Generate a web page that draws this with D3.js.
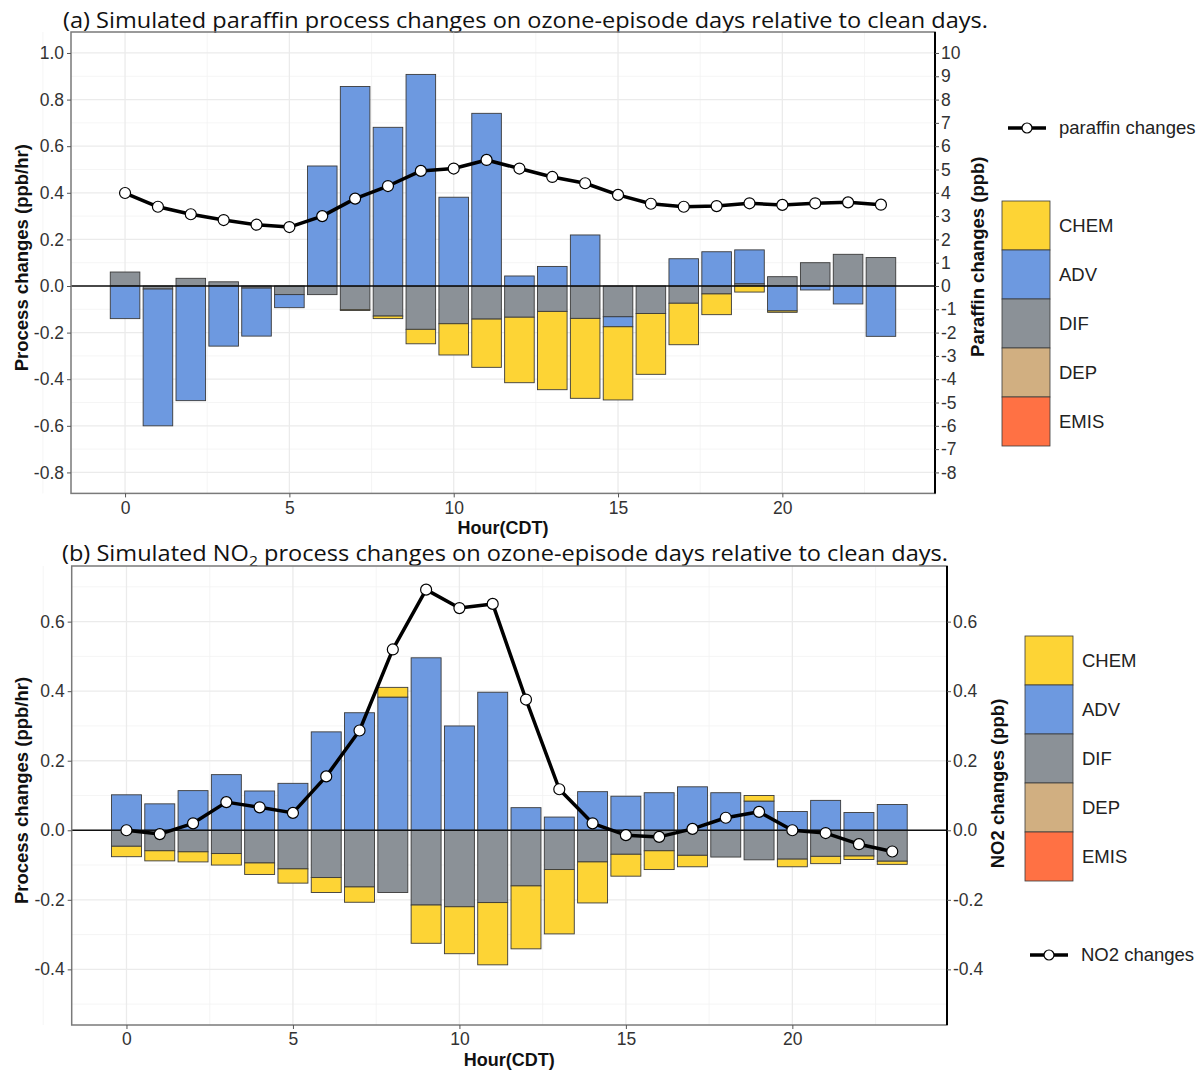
<!DOCTYPE html>
<html lang="en">
<head>
<meta charset="utf-8">
<title>Process changes</title>
<script src="https://cdn.jsdelivr.net/npm/d3@7"></script>
<style>
  body { margin: 0; background: #ffffff; }
  svg { display: block; font-family: "Liberation Sans", Arial, sans-serif; }
  .tick text { fill: #333333; font-size: 17.5px; }
  .tick line { stroke: #555555; }
</style>
</head>
<body>
<script>
// hours and process keys
var hours = [0,1,2,3,4,5,6,7,8,9,10,11,12,13,14,15,16,17,18,19,20,21,22,23];
var legendKeys = ["CHEM", "ADV", "DIF", "DEP", "EMIS"];
var stackKeys = ["EMIS", "DEP", "DIF", "ADV", "CHEM"];   // nearest zero first
var colors = { CHEM: "#FDD435", ADV: "#6D99E0", DIF: "#8B9197", DEP: "#D1AF81", EMIS: "#FF7144" };

// (a) paraffin process changes (ppb/hr)
var aChem = [0,0,0,0,0,0,0,-0.003,-0.011,-0.062,-0.134,-0.207,-0.281,-0.336,-0.343,-0.314,-0.261,-0.178,-0.089,-0.026,-0.006,0,0,0];
var aAdv  = [-0.14,-0.587,-0.492,-0.258,-0.206,-0.056,0.515,0.856,0.681,0.908,0.381,0.741,0.043,0.084,0.219,-0.043,0,0.117,0.147,0.145,-0.107,-0.017,-0.077,-0.216];
var aDif  = [0.06,-0.013,0.033,0.018,-0.009,-0.037,-0.037,-0.102,-0.129,-0.186,-0.162,-0.142,-0.134,-0.109,-0.139,-0.132,-0.118,-0.074,-0.034,0.010,0.040,0.100,0.136,0.122];
var aDep  = [0,0,0,0,0,0,0,0,0,0,0,0,0,0,0,0,0,0,0,0,0,0,0,0];
var aEmis = [0,0,0,0,0,0,0,0,0,0,0,0,0,0,0,0,0,0,0,0,0,0,0,0];
// paraffin changes (ppb), right axis
var aLine = [3.99,3.40,3.08,2.83,2.63,2.53,3.00,3.75,4.29,4.94,5.04,5.41,5.04,4.68,4.41,3.91,3.53,3.40,3.43,3.55,3.48,3.55,3.59,3.49];

// (b) NO2 process changes (ppb/hr)
var bChem = [-0.030,-0.029,-0.029,-0.033,-0.033,-0.041,-0.043,-0.044,0.028,-0.110,-0.135,-0.179,-0.181,-0.185,-0.118,-0.063,-0.054,-0.033,0,0.016,-0.022,-0.021,-0.010,-0.009];
var bAdv  = [0.102,0.076,0.114,0.160,0.113,0.135,0.283,0.338,0.383,0.496,0.300,0.397,0.065,0.038,0.111,0.098,0.108,0.125,0.108,0.084,0.054,0.086,0.051,0.074];
var bDif  = [-0.046,-0.059,-0.062,-0.067,-0.094,-0.111,-0.136,-0.163,-0.179,-0.215,-0.220,-0.208,-0.160,-0.113,-0.091,-0.069,-0.059,-0.072,-0.077,-0.085,-0.083,-0.075,-0.074,-0.089];
var bDep  = [0,0,0,0,0,0,0,0,0,0,0,0,0,0,0,0,0,0,0,0,0,0,0,0];
var bEmis = [0,0,0,0,0,0,0,0,0,0,0,0,0,0,0,0,0,0,0,0,0,0,0,0];
// NO2 changes (ppb), right axis
var bLine = [0.0,-0.011,0.020,0.081,0.066,0.050,0.155,0.287,0.520,0.692,0.639,0.651,0.376,0.118,0.020,-0.014,-0.019,0.004,0.036,0.053,0.0,-0.008,-0.040,-0.061];

// tick values
var aLeftTicks = [-0.8,-0.6,-0.4,-0.2,0,0.2,0.4,0.6,0.8,1.0];
var aRightTicks = [-8,-7,-6,-5,-4,-3,-2,-1,0,1,2,3,4,5,6,7,8,9,10];
var bTicks = [-0.4,-0.2,0,0.2,0.4,0.6];
var xTicks = [0,5,10,15,20];

var w = 1201, h = 1070;
var svg = d3.select("body").append("svg").attr("width", w).attr("height", h);

// plain hyphen for negatives, like the original
var fmt1 = function(d) { return d3.format(".1f")(d).replace("\u2212", "-"); };
var fmtInt = function(d) { return d3.format("d")(d).replace("\u2212", "-"); };

function drawPanel(cfg) {
  var g = svg.append("g");
  var rows = hours.map(function(hr, i) {
    return { hour: hr, CHEM: cfg.chem[i], ADV: cfg.adv[i], DIF: cfg.dif[i], DEP: cfg.dep[i], EMIS: cfg.emis[i] };
  });

  var xScale = d3.scaleLinear().domain([-1.645, 24.645]).range([cfg.left, cfg.right]);
  var yScale = d3.scaleLinear().domain(cfg.yDomain).range([cfg.bottom, cfg.top]);
  var y2Scale = d3.scaleLinear().domain(cfg.y2Domain).range([cfg.bottom, cfg.top]);

  // grid: minor then major
  g.selectAll(".hminor").data(cfg.hMinor).enter().append("line")
    .attr("x1", cfg.left).attr("x2", cfg.right)
    .attr("y1", function(d) { return yScale(d); }).attr("y2", function(d) { return yScale(d); })
    .attr("stroke", "#F2F2F2").attr("stroke-width", 0.8);
  g.selectAll(".vminor").data([-2.5, 2.5, 7.5, 12.5, 17.5, 22.5]).enter().append("line")
    .attr("y1", cfg.top).attr("y2", cfg.bottom)
    .attr("x1", function(d) { return xScale(d); }).attr("x2", function(d) { return xScale(d); })
    .attr("stroke", "#F2F2F2").attr("stroke-width", 0.8);
  g.selectAll(".hmajor").data(cfg.leftTicks).enter().append("line")
    .attr("x1", cfg.left).attr("x2", cfg.right)
    .attr("y1", function(d) { return yScale(d); }).attr("y2", function(d) { return yScale(d); })
    .attr("stroke", "#EBEBEB").attr("stroke-width", 1.3);
  g.selectAll(".vmajor").data(xTicks).enter().append("line")
    .attr("y1", cfg.top).attr("y2", cfg.bottom)
    .attr("x1", function(d) { return xScale(d); }).attr("x2", function(d) { return xScale(d); })
    .attr("stroke", "#EBEBEB").attr("stroke-width", 1.3);

  // stacked bars
  var series = d3.stack().keys(stackKeys).offset(d3.stackOffsetDiverging)(rows);
  var bw = xScale(0.45) - xScale(-0.45);
  series.forEach(function(s) {
    g.selectAll(".bar-" + s.key).data(s.filter(function(d) { return d[1] !== d[0]; }))
      .enter().append("rect")
      .attr("x", function(d) { return xScale(d.data.hour) - bw / 2; })
      .attr("width", bw)
      .attr("y", function(d) { return yScale(Math.max(d[0], d[1])); })
      .attr("height", function(d) { return Math.abs(yScale(d[0]) - yScale(d[1])); })
      .attr("fill", colors[s.key])
      .attr("stroke", "#3a3a3a").attr("stroke-width", 0.9);
  });

  // zero line
  g.append("line")
    .attr("x1", cfg.left).attr("x2", cfg.right)
    .attr("y1", yScale(0)).attr("y2", yScale(0))
    .attr("stroke", "#111").attr("stroke-width", 1.4);

  // line + points on right axis scale
  var line = d3.line()
    .x(function(d, i) { return xScale(hours[i]); })
    .y(function(d) { return y2Scale(d); });
  g.append("path").datum(cfg.line)
    .attr("d", line).attr("fill", "none")
    .attr("stroke", "#000").attr("stroke-width", 3.5).attr("stroke-linejoin", "round");
  g.selectAll(".pt").data(cfg.line).enter().append("circle")
    .attr("cx", function(d, i) { return xScale(hours[i]); })
    .attr("cy", function(d) { return y2Scale(d); })
    .attr("r", 5.5)
    .attr("fill", "#fff").attr("stroke", "#000").attr("stroke-width", 1.2);

  // panel border
  g.append("rect")
    .attr("x", cfg.left).attr("y", cfg.top)
    .attr("width", cfg.right - cfg.left).attr("height", cfg.bottom - cfg.top)
    .attr("fill", "none").attr("stroke", "#7a7a7a").attr("stroke-width", 1.5);
  g.append("line")
    .attr("x1", cfg.right).attr("x2", cfg.right).attr("y1", cfg.top).attr("y2", cfg.bottom)
    .attr("stroke", "#000").attr("stroke-width", 2);

  // axes
  var leftAxis = d3.axisLeft(yScale).tickValues(cfg.leftTicks).tickSize(4).tickPadding(3)
    .tickFormat(fmt1);
  var gl = g.append("g").attr("transform", "translate(" + cfg.left + ",0)").call(leftAxis);
  gl.select(".domain").remove();

  var rightAxis = d3.axisRight(y2Scale).tickValues(cfg.rightTicks).tickSize(4).tickPadding(2)
    .tickFormat(cfg.rightFormat);
  var gr = g.append("g").attr("transform", "translate(" + cfg.right + ",0)").call(rightAxis);
  gr.select(".domain").remove();
  gr.selectAll(".tick line").attr("stroke", "#000");

  var bottomAxis = d3.axisBottom(xScale).tickValues(xTicks).tickSize(4).tickPadding(4);
  var gb = g.append("g").attr("transform", "translate(0," + cfg.bottom + ")").call(bottomAxis);
  gb.select(".domain").remove();

  // axis titles
  var midY = (cfg.top + cfg.bottom) / 2;
  g.append("text")
    .attr("transform", "translate(28," + (midY - 5) + ") rotate(-90)")
    .attr("text-anchor", "middle").attr("font-size", 18.5).attr("font-weight", "bold")
    .attr("fill", "#111").text("Process changes (ppb/hr)");
  g.append("text")
    .attr("transform", "translate(" + cfg.rightTitleX + "," + (midY + cfg.rightTitleDy) + ") rotate(-90)")
    .attr("text-anchor", "middle").attr("font-size", 18.5).attr("font-weight", "bold")
    .attr("fill", "#111").text(cfg.rightTitle);
  g.append("text")
    .attr("x", (cfg.left + cfg.right) / 2).attr("y", cfg.bottom + 41)
    .attr("text-anchor", "middle").attr("font-size", 18).attr("font-weight", "bold")
    .attr("fill", "#111").text("Hour(CDT)");

  // fill legend
  var lg = g.append("g");
  legendKeys.forEach(function(k, i) {
    lg.append("rect")
      .attr("x", cfg.legX).attr("y", cfg.legY + i * 49)
      .attr("width", 48).attr("height", 49)
      .attr("fill", colors[k]).attr("stroke", "#3a3a3a").attr("stroke-width", 0.8);
    lg.append("text")
      .attr("x", cfg.legX + 57).attr("y", cfg.legY + i * 49 + 25)
      .attr("dy", "0.35em").attr("font-size", 18.5).attr("fill", "#222").text(k);
  });

  // line legend
  var ll = g.append("g");
  ll.append("line")
    .attr("x1", cfg.lineLegX).attr("x2", cfg.lineLegX + 38)
    .attr("y1", cfg.lineLegY).attr("y2", cfg.lineLegY)
    .attr("stroke", "#000").attr("stroke-width", 3.5);
  ll.append("circle")
    .attr("cx", cfg.lineLegX + 19).attr("cy", cfg.lineLegY).attr("r", 5)
    .attr("fill", "#fff").attr("stroke", "#000").attr("stroke-width", 1.2);
  ll.append("text")
    .attr("x", cfg.lineLegX + 51).attr("y", cfg.lineLegY).attr("dy", "0.35em")
    .attr("font-size", 18.5).attr("fill", "#222").text(cfg.lineLabel);
}

// titles
svg.append("text")
  .attr("x", 63).attr("y", 28)
  .attr("font-family", "'Open Sans', 'Noto Sans', sans-serif").attr("font-size", 21)
  .attr("fill", "#111")
  .attr("textLength", 925).attr("lengthAdjust", "spacingAndGlyphs")
  .text("(a) Simulated paraffin process changes on ozone-episode days relative to clean days.");

var tb = svg.append("text")
  .attr("x", 62).attr("y", 561)
  .attr("font-family", "'Open Sans', 'Noto Sans', sans-serif").attr("font-size", 21)
  .attr("fill", "#111")
  .attr("textLength", 886).attr("lengthAdjust", "spacingAndGlyphs");
tb.append("tspan").text("(b) Simulated NO");
tb.append("tspan").attr("font-size", 14).attr("dy", 5).text("2");
tb.append("tspan").attr("dy", -5).text(" process changes on ozone-episode days relative to clean days.");

drawPanel({
  chem: aChem, adv: aAdv, dif: aDif, dep: aDep, emis: aEmis, line: aLine,
  left: 71, right: 935, top: 32, bottom: 493.4,
  yDomain: [-0.89, 1.09], y2Domain: [-8.9, 10.9],
  leftTicks: aLeftTicks, rightTicks: aRightTicks, rightFormat: fmtInt,
  hMinor: [-0.7,-0.5,-0.3,-0.1,0.1,0.3,0.5,0.7,0.9],
  rightTitle: "Paraffin changes (ppb)", rightTitleX: 984, rightTitleDy: -6,
  legX: 1002, legY: 201,
  lineLegX: 1008, lineLegY: 128, lineLabel: "paraffin changes"
});

drawPanel({
  chem: bChem, adv: bAdv, dif: bDif, dep: bDep, emis: bEmis, line: bLine,
  left: 71.7, right: 947, top: 566, bottom: 1025,
  yDomain: [-0.56, 0.76], y2Domain: [-0.56, 0.76],
  leftTicks: bTicks, rightTicks: bTicks, rightFormat: fmt1,
  hMinor: [-0.5,-0.3,-0.1,0.1,0.3,0.5,0.7],
  rightTitle: "NO2 changes (ppb)", rightTitleX: 1004, rightTitleDy: -12,
  legX: 1025, legY: 636,
  lineLegX: 1030, lineLegY: 955, lineLabel: "NO2 changes"
});
</script>
</body>
</html>
